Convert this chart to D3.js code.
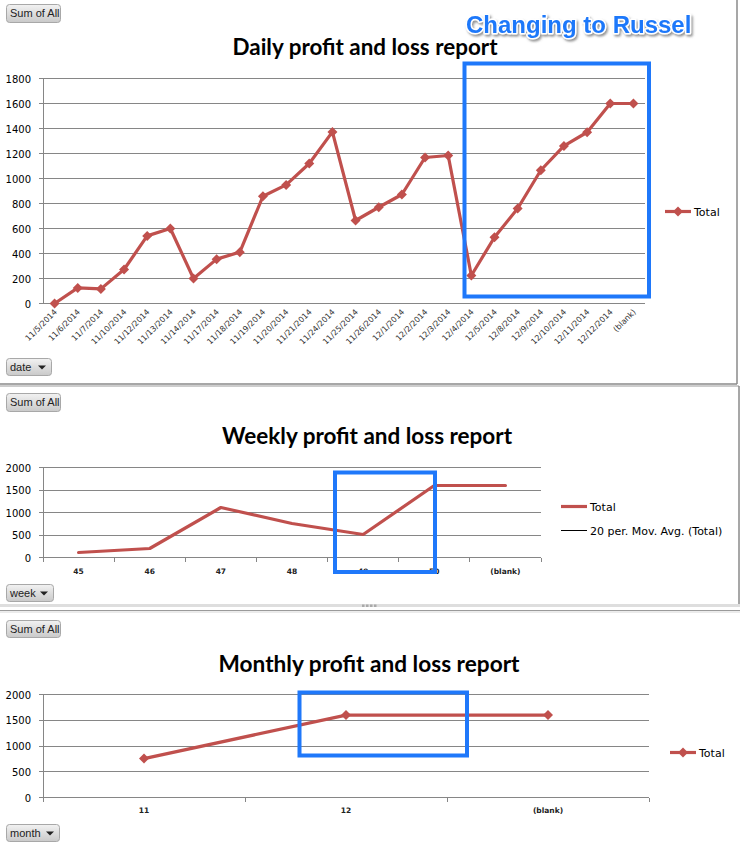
<!DOCTYPE html>
<html>
<head>
<meta charset="utf-8">
<script src="https://cdn.jsdelivr.net/npm/d3@7/dist/d3.min.js"></script>
<style>
  html, body { margin: 0; padding: 0; background: #fff; }
  svg { display: block; }
</style>
</head>
<body>
<svg id="chart" width="740" height="846"></svg>
<script>
// ---------------- DATA ----------------
const dailyDates = ["11/5/2014","11/6/2014","11/7/2014","11/10/2014","11/12/2014","11/13/2014","11/14/2014",
  "11/17/2014","11/18/2014","11/19/2014","11/20/2014","11/21/2014","11/24/2014","11/25/2014","11/26/2014",
  "12/1/2014","12/2/2014","12/3/2014","12/4/2014","12/5/2014","12/8/2014","12/9/2014","12/10/2014",
  "12/11/2014","12/12/2014","(blank)"];
const dailyTotals = [0,125,117,272,541,600,200,355,411,858,949,1120,1373,664,770,872,1168,1184,224,530,760,1066,1261,1370,1600,1600];
const dailyYTicks = [0,200,400,600,800,1000,1200,1400,1600,1800];

const weekLabels = ["45","46","47","48","49","50","(blank)"];
const weeklyTotals = [111,200,1111,755,511,1600,1600];
const weeklyYTicks = [0,500,1000,1500,2000];

const monthLabels = ["11","12","(blank)"];
const monthlyTotals = [755,1600,1600];
const monthlyYTicks = [0,500,1000,1500,2000];

const titles = ["Daily profit and loss report","Weekly profit and loss report","Monthly profit and loss report"];
const fieldButtons = ["date","week","month"];
const legendDaily = ["Total"];
const legendWeekly = ["Total","20 per. Mov. Avg. (Total)"];
const legendMonthly = ["Total"];
const annotation = "Changing to Russel";

// ---------------- STYLE ----------------
const RED = "#c0504d";
const GRID = "#868686";
const BLUE = "#1f78fa";
const svg = d3.select("#chart");

const defs = svg.append("defs");
const grad = defs.append("linearGradient").attr("id","btnGrad").attr("x1",0).attr("y1",0).attr("x2",0).attr("y2",1);
grad.append("stop").attr("offset","0%").attr("stop-color","#f2f2f2");
grad.append("stop").attr("offset","100%").attr("stop-color","#c9c9c9");
const flt = defs.append("filter").attr("id","shadow").attr("x","-10%").attr("y","-30%").attr("width","130%").attr("height","180%");
flt.append("feDropShadow").attr("dx",1.5).attr("dy",2).attr("stdDeviation",1.2).attr("flood-color","#666").attr("flood-opacity",0.7);

const diamond = {
  draw(ctx, size) {
    const r = Math.sqrt(size) / 2;
    ctx.moveTo(0, -r); ctx.lineTo(r, 0); ctx.lineTo(0, r); ctx.lineTo(-r, 0); ctx.closePath();
  }
};

// ---------------- PANEL FRAMES ----------------
function line(x1,y1,x2,y2,color,w){
  svg.append("line").attr("x1",x1).attr("y1",y1).attr("x2",x2).attr("y2",y2)
    .attr("stroke",color).attr("stroke-width",w);
}
line(0,384,737,384,"#8a8a8a",1.5);
line(737,0,737,384,"#8a8a8a",1.5);
line(0,386,739,386,"#9a9a9a",1);
line(739,386,739,606,"#8a8a8a",1.5);
svg.append("rect").attr("x",0).attr("y",604).attr("width",740).attr("height",3).attr("fill","#dedede");
line(0,610.5,740,610.5,"#9a9a9a",1);
line(0,612,740,612,"#d8d8d8",1);
[362,366,370,374].forEach(x => svg.append("rect").attr("x",x).attr("y",604.5).attr("width",2.5).attr("height",2.5).attr("fill","#aaa"));

// ---------------- BUTTONS ----------------
function button(x,y,w,h,label,dropdown){
  const g = svg.append("g");
  g.append("rect").attr("x",x+0.5).attr("y",y+0.5).attr("width",w).attr("height",h).attr("rx",3)
    .attr("fill","url(#btnGrad)").attr("stroke","#a8a8a8");
  g.append("text").attr("x",x+4).attr("y",y+h/2+4).text(label)
    .attr("font-family","Liberation Sans, Arial, sans-serif").attr("font-size",11).attr("fill","#222");
  if (dropdown) {
    const cx = x + w - 9, cy = y + h/2 + 1;
    g.append("path").attr("d",`M${cx-4},${cy-2}L${cx+4},${cy-2}L${cx},${cy+2}Z`).attr("fill","#222");
  }
}
button(6,4,54,18,"Sum of All",false);
button(6,358,45,17,fieldButtons[0],true);
button(6,393,54,18,"Sum of All",false);
button(6,584,47,17,fieldButtons[1],true);
button(6,620,54,17,"Sum of All",false);
button(6,824,53,17,fieldButtons[2],true);

// ---------------- CHART DRAWER ----------------
function drawChart(cfg){
  const g = svg.append("g");
  const x = d3.scaleBand().domain(cfg.cats).range([cfg.left, cfg.right]);
  const y = d3.scaleLinear().domain([0, d3.max(cfg.yTicks)]).range([cfg.bottom, cfg.top]);

  // gridlines
  g.append("g").selectAll("line").data(cfg.yTicks).join("line")
    .attr("x1",cfg.left - 4).attr("x2",cfg.right)
    .attr("y1",d=>y(d)).attr("y2",d=>y(d))
    .attr("stroke",GRID).attr("stroke-width",1).attr("shape-rendering","crispEdges");
  // y axis line
  g.append("line").attr("x1",cfg.left).attr("x2",cfg.left).attr("y1",cfg.top).attr("y2",cfg.bottom + (cfg.boundaryTicks?4:0))
    .attr("stroke",GRID).attr("shape-rendering","crispEdges");
  // y labels
  g.append("g").selectAll("text").data(cfg.yTicks).join("text")
    .attr("x",cfg.left - 12).attr("y",d=>y(d)+4).attr("text-anchor","end")
    .attr("font-family","DejaVu Sans, Verdana, sans-serif").attr("font-size",10).attr("fill","#000")
    .text(d=>d);
  // boundary ticks
  if (cfg.boundaryTicks) {
    const bounds = cfg.cats.map(c => x(c)).concat([cfg.right]);
    g.append("g").selectAll("line").data(bounds).join("line")
      .attr("x1",d=>d).attr("x2",d=>d).attr("y1",cfg.bottom).attr("y2",cfg.bottom+4)
      .attr("stroke",GRID).attr("shape-rendering","crispEdges");
  }
  // x labels
  const cx = c => x(c) + x.bandwidth()/2;
  if (cfg.rotate) {
    g.append("g").selectAll("text").data(cfg.cats).join("text")
      .attr("transform",c=>`translate(${cx(c)+3},${cfg.bottom+9}) rotate(-45)`)
      .attr("text-anchor","end")
      .attr("font-family","DejaVu Sans, Verdana, sans-serif").attr("font-size",8).attr("fill","#333")
      .text(c=>c);
  } else {
    g.append("g").selectAll("text").data(cfg.cats).join("text")
      .attr("x",cx).attr("y",cfg.bottom + cfg.labelOffset).attr("text-anchor","middle")
      .attr("font-family","DejaVu Sans, Verdana, sans-serif").attr("font-size",7.5).attr("font-weight","bold").attr("fill","#222")
      .text(c=>c);
  }
  // series line
  const pts = cfg.cats.map((c,i)=>[cx(c), y(cfg.values[i])]);
  g.append("path").attr("d",d3.line()(pts)).attr("fill","none").attr("stroke",RED)
    .attr("stroke-width",3.2).attr("stroke-linejoin","round").attr("stroke-linecap","round");
  if (cfg.markers) {
    g.append("g").selectAll("path").data(pts).join("path")
      .attr("transform",p=>`translate(${p[0]},${p[1]})`)
      .attr("d",d3.symbol(diamond,100)).attr("fill",RED);
  }
  // title
  const t = svg.append("text").attr("x",cfg.titleX).attr("y",cfg.titleY).attr("text-anchor","middle")
    .attr("font-family","Lato, 'Open Sans', sans-serif").attr("font-weight","bold").attr("font-size",22)
    .attr("fill","#000").text(cfg.title);
  t.attr("textLength",cfg.titleW).attr("lengthAdjust","spacingAndGlyphs");
  // legend
  cfg.legend.forEach((name,i) => {
    const ly = cfg.legendY + i*24;
    const isMA = i === 1;
    g.append("line").attr("x1",cfg.legendX).attr("x2",cfg.legendX+26).attr("y1",ly).attr("y2",ly)
      .attr("stroke",isMA ? "#000" : RED).attr("stroke-width",isMA ? 1 : 3.2);
    if (cfg.markers && !isMA) {
      g.append("path").attr("transform",`translate(${cfg.legendX+13},${ly})`)
        .attr("d",d3.symbol(diamond,100)).attr("fill",RED);
    }
    g.append("text").attr("x",cfg.legendX+29).attr("y",ly+4)
      .attr("font-family","DejaVu Sans, Verdana, sans-serif").attr("font-size",11).attr("fill","#000").text(name);
  });
}

drawChart({cats:dailyDates, values:dailyTotals, yTicks:dailyYTicks,
  left:43, right:645, top:78.5, bottom:303.5, rotate:true, markers:true, boundaryTicks:false,
  title:titles[0], titleX:365, titleY:55, titleW:265,
  legend:legendDaily, legendX:665, legendY:211.5});

drawChart({cats:weekLabels, values:weeklyTotals, yTicks:weeklyYTicks,
  left:43, right:541, top:467.5, bottom:557.5, rotate:false, markers:false, boundaryTicks:true, labelOffset:16,
  title:titles[1], titleX:367, titleY:444, titleW:290,
  legend:legendWeekly, legendX:561, legendY:506.5});

drawChart({cats:monthLabels, values:monthlyTotals, yTicks:monthlyYTicks,
  left:43, right:649, top:694.5, bottom:797.5, rotate:false, markers:true, boundaryTicks:true, labelOffset:15,
  title:titles[2], titleX:369, titleY:671.5, titleW:301,
  legend:legendMonthly, legendX:670, legendY:752.5});

// ---------------- ANNOTATIONS ----------------
function blueBox(x1,y1,x2,y2){
  svg.append("rect").attr("x",x1).attr("y",y1).attr("width",x2-x1).attr("height",y2-y1)
    .attr("fill","none").attr("stroke",BLUE).attr("stroke-width",4);
}
blueBox(464.5,63.5,649,296.5);
blueBox(335,472.5,435,572);
blueBox(299.5,692.5,467,755.5);

svg.append("text").attr("x",466).attr("y",33).text(annotation)
  .attr("font-family","Liberation Sans, Arial, sans-serif").attr("font-weight","bold").attr("font-size",24)
  .attr("fill",BLUE).attr("stroke","#fff").attr("stroke-width",3).attr("paint-order","stroke")
  .attr("stroke-linejoin","round").attr("filter","url(#shadow)");
</script>
</body>
</html>
